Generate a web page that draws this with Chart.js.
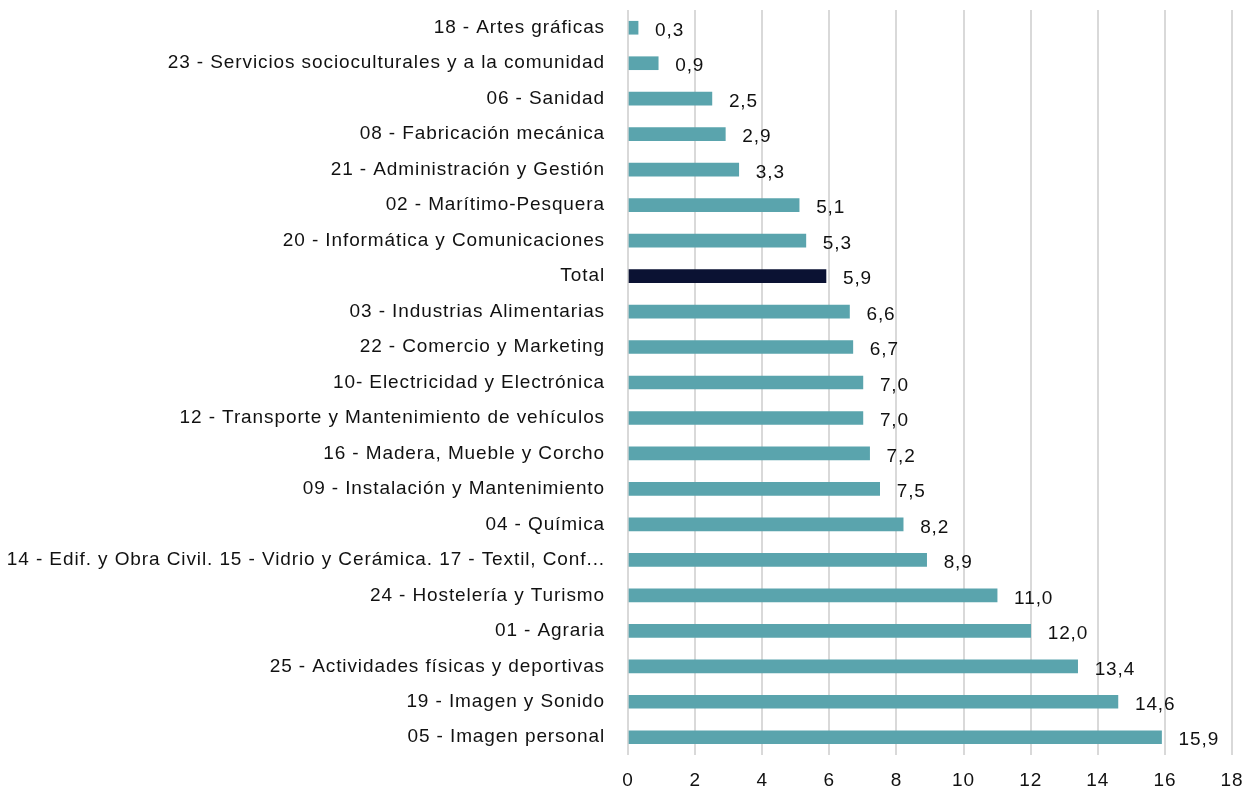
<!DOCTYPE html>
<html>
<head>
<meta charset="utf-8">
<script src="https://cdn.jsdelivr.net/npm/chart.js@4/dist/chart.umd.min.js"></script>
<style>
html,body{margin:0;padding:0;background:#fff;}
#wrap{width:1250px;height:792px;position:relative;}
</style>
</head>
<body>
<div id="wrap"><canvas id="c" width="1250" height="792"></canvas></div>
<script>
const categories = [
  "18 - Artes gráficas",
  "23 - Servicios socioculturales y a la comunidad",
  "06 - Sanidad",
  "08 - Fabricación mecánica",
  "21 - Administración y Gestión",
  "02 - Marítimo-Pesquera",
  "20 - Informática y Comunicaciones",
  "Total",
  "03 - Industrias Alimentarias",
  "22 - Comercio y Marketing",
  "10- Electricidad y Electrónica",
  "12 - Transporte y Mantenimiento de vehículos",
  "16 - Madera, Mueble y Corcho",
  "09 - Instalación y Mantenimiento",
  "04 - Química",
  "14 - Edif. y Obra Civil. 15 - Vidrio y Cerámica. 17 - Textil, Conf...",
  "24 - Hostelería y Turismo",
  "01 - Agraria",
  "25 - Actividades físicas y deportivas",
  "19 - Imagen y Sonido",
  "05 - Imagen personal"
];
const values = [0.3, 0.9, 2.5, 2.9, 3.3, 5.1, 5.3, 5.9, 6.6, 6.7, 7.0, 7.0, 7.2, 7.5, 8.2, 8.9, 11.0, 12.0, 13.4, 14.6, 15.9];
const xTicks = [0, 2, 4, 6, 8, 10, 12, 14, 16, 18];

const TEAL = '#5aa4ad';
const NAVY = '#0b1233';
const FONT = '"Liberation Sans", Arial, Helvetica, sans-serif';
const FSIZE = 19;
const SPACING = '0.9px';

const spacingPlugin = {
  id: 'spacing',
  beforeUpdate(chart) { chart.ctx.letterSpacing = SPACING; },
  beforeDraw(chart) { chart.ctx.letterSpacing = SPACING; }
};

const valueLabels = {
  id: 'valueLabels',
  afterDatasetsDraw(chart) {
    const ctx = chart.ctx;
    const meta = chart.getDatasetMeta(0);
    ctx.save();
    ctx.letterSpacing = SPACING;
    ctx.font = FSIZE + 'px ' + FONT;
    ctx.fillStyle = '#111';
    ctx.textAlign = 'left';
    ctx.textBaseline = 'middle';
    meta.data.forEach((bar, i) => {
      const txt = values[i].toFixed(1).replace('.', ',');
      ctx.fillText(txt, bar.x + 17, bar.y + 3);
    });
    ctx.restore();
  }
};

new Chart(document.getElementById('c'), {
  type: 'bar',
  data: {
    labels: categories,
    datasets: [{
      data: values,
      backgroundColor: categories.map(c => c === 'Total' ? NAVY : TEAL),
      barThickness: 13,
      borderWidth: 0
    }]
  },
  options: {
    indexAxis: 'y',
    responsive: false,
    animation: false,
    layout: { padding: { top: 10, right: 18, bottom: 0, left: 0 } },
    plugins: { legend: { display: false }, tooltip: { enabled: false } },
    scales: {
      x: {
        min: 0, max: 18,
        afterBuildTicks(scale) { scale.ticks = xTicks.map(v => ({ value: v })); },
        afterFit(scale) { scale.height = 37; scale.paddingLeft = 0; scale.paddingRight = 0; },
        grid: { color: '#d9d9d9', lineWidth: 2, drawTicks: false },
        border: { display: false },
        ticks: { padding: 14, color: '#111', font: { family: FONT, size: FSIZE } }
      },
      y: {
        afterFit(scale) { scale.width = 628; scale.paddingTop = 0; scale.paddingBottom = 0; },
        grid: { display: false, drawTicks: false },
        border: { display: false },
        ticks: { padding: 23, color: '#111', autoSkip: false, font: { family: FONT, size: FSIZE } }
      }
    }
  },
  plugins: [spacingPlugin, valueLabels]
});
</script>
</body>
</html>
